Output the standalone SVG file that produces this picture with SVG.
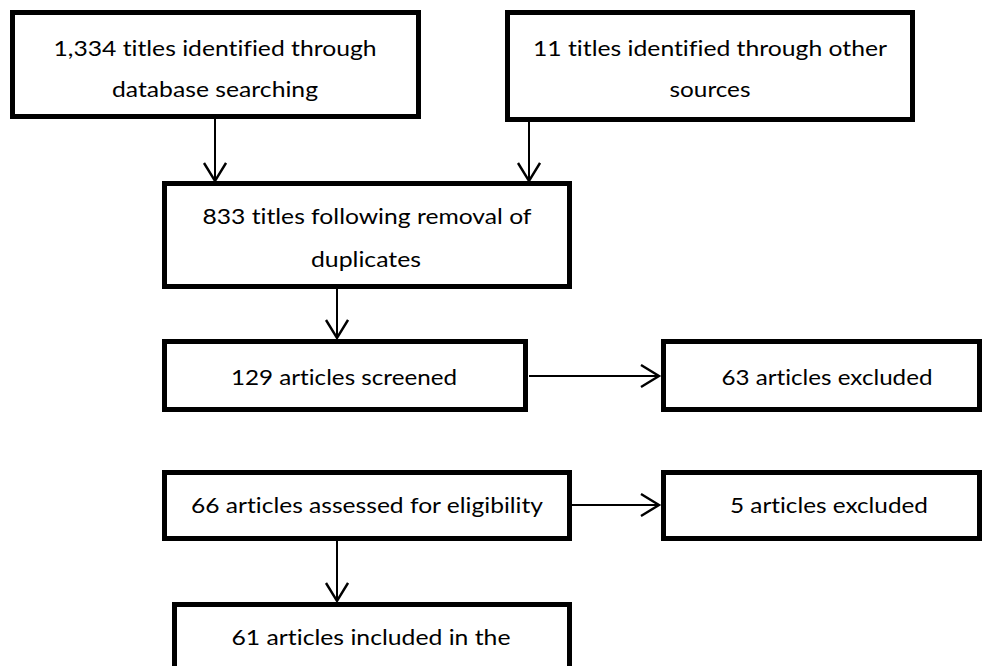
<svg xmlns="http://www.w3.org/2000/svg" width="984" height="666" viewBox="0 0 984 666">
<style>
.box{fill:#fff;stroke:#000;stroke-width:5}
.lbl{font-family:Lato,"Liberation Sans",sans-serif;font-size:20.5px;fill:#000;text-anchor:middle;font-variant-ligatures:none}
.conn{stroke:#000;stroke-width:2;fill:none}
</style>
<defs>
<marker id="arr" markerUnits="userSpaceOnUse" markerWidth="26" markerHeight="26" refX="20" refY="12" orient="auto" viewBox="0 0 26 26">
<path d="M2,1 L20,12 L2,23" fill="none" stroke="#000" stroke-width="2.4"/>
</marker>
</defs>
<rect width="984" height="666" fill="#fff"/>
<g id="connectors">
<line class="conn" x1="215" y1="119" x2="215" y2="181" marker-end="url(#arr)"/>
<line class="conn" x1="529" y1="122" x2="529" y2="181" marker-end="url(#arr)"/>
<line class="conn" x1="337" y1="289" x2="337" y2="338" marker-end="url(#arr)"/>
<line class="conn" x1="529" y1="376" x2="659" y2="376" marker-end="url(#arr)"/>
<line class="conn" x1="572" y1="505" x2="659" y2="505" marker-end="url(#arr)"/>
<line class="conn" x1="337" y1="541" x2="337" y2="601" marker-end="url(#arr)"/>
</g>
<g id="n1">
<rect class="box" x="12.5" y="12.5" width="406" height="104"/>
<text class="lbl" x="215" y="56" textLength="323" lengthAdjust="spacingAndGlyphs">1,334 titles identified through</text>
<text class="lbl" x="215" y="97" textLength="206" lengthAdjust="spacingAndGlyphs">database searching</text>
</g>
<g id="n2">
<rect class="box" x="507.5" y="12.5" width="405" height="107"/>
<text class="lbl" x="710" y="56" textLength="354" lengthAdjust="spacingAndGlyphs">11 titles identified through other</text>
<text class="lbl" x="710" y="97" textLength="81" lengthAdjust="spacingAndGlyphs">sources</text>
</g>
<g id="n3">
<rect class="box" x="164.5" y="183.5" width="405" height="103"/>
<text class="lbl" x="367" y="224" textLength="329" lengthAdjust="spacingAndGlyphs">833 titles following removal of</text>
<text class="lbl" x="366" y="267" textLength="110" lengthAdjust="spacingAndGlyphs">duplicates</text>
</g>
<g id="n4">
<rect class="box" x="164.5" y="341.5" width="361" height="68"/>
<text class="lbl" x="344" y="385" textLength="226" lengthAdjust="spacingAndGlyphs">129 articles screened</text>
</g>
<g id="n5">
<rect class="box" x="663.5" y="341.5" width="316" height="68"/>
<text class="lbl" x="827" y="385" textLength="211" lengthAdjust="spacingAndGlyphs">63 articles excluded</text>
</g>
<g id="n6">
<rect class="box" x="164.5" y="472.5" width="405" height="66"/>
<text class="lbl" x="367" y="513" textLength="352" lengthAdjust="spacingAndGlyphs">66 articles assessed for eligibility</text>
</g>
<g id="n7">
<rect class="box" x="663.5" y="472.5" width="316" height="66"/>
<text class="lbl" x="829" y="513" textLength="198" lengthAdjust="spacingAndGlyphs">5 articles excluded</text>
</g>
<g id="n8">
<rect class="box" x="174.5" y="604.5" width="395" height="90"/>
<text class="lbl" x="371" y="645" textLength="279" lengthAdjust="spacingAndGlyphs">61 articles included in the</text>
</g>
</svg>
